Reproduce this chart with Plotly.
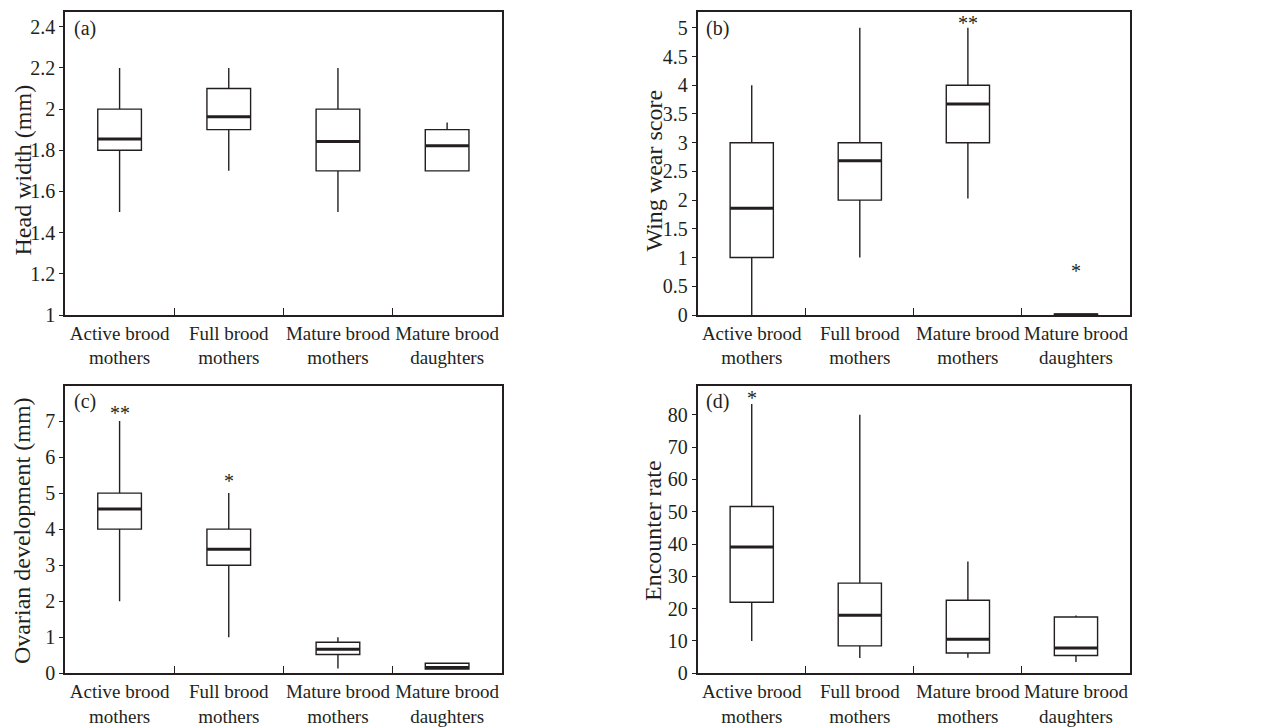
import plotly.graph_objects as go
from plotly.subplots import make_subplots

categories = ["Active brood<br>mothers", "Full brood<br>mothers",
              "Mature brood<br>mothers", "Mature brood<br>daughters"]

# (a) Head width (mm)
head_low = [1.5, 1.7, 1.5, 1.7]
head_q1 = [1.8, 1.9, 1.7, 1.7]
head_med = [1.855, 1.963, 1.842, 1.822]
head_q3 = [2.0, 2.1, 2.0, 1.9]
head_high = [2.2, 2.2, 2.2, 1.935]
head_stars = ["", "", "", ""]
head_star_y = [None, None, None, None]

# (b) Wing wear score
wing_low = [0.0, 1.0, 2.03, 0.0]
wing_q1 = [1.0, 2.0, 3.0, 0.0]
wing_med = [1.86, 2.685, 3.675, 0.0]
wing_q3 = [3.0, 3.0, 4.0, 0.02]
wing_high = [4.0, 5.0, 5.0, 0.02]
wing_stars = ["", "", "**", "*"]
wing_star_y = [None, None, 5.15, 0.84]

# (c) Ovarian development (mm)
ovary_low = [2.0, 1.0, 0.13, 0.12]
ovary_q1 = [4.0, 3.0, 0.52, 0.12]
ovary_med = [4.56, 3.44, 0.67, 0.16]
ovary_q3 = [5.0, 4.0, 0.86, 0.28]
ovary_high = [7.0, 5.0, 1.0, 0.28]
ovary_stars = ["**", "*", "", ""]
ovary_star_y = [7.32, 5.44, None, None]

# (d) Encounter rate
enc_low = [10.0, 4.7, 4.8, 3.5]
enc_q1 = [22.0, 8.5, 6.3, 5.5]
enc_med = [39.1, 18.0, 10.5, 7.8]
enc_q3 = [51.6, 27.9, 22.6, 17.4]
enc_high = [83.3, 80.0, 34.6, 17.9]
enc_stars = ["*", "", "", ""]
enc_star_y = [86.3, None, None, None]

# y tick labels
a_ticks = [1, 1.2, 1.4, 1.6, 1.8, 2, 2.2, 2.4]
a_text = ["1", "1.2", "1.4", "1.6", "1.8", "2", "2.2", "2.4"]
b_ticks = [0, 0.5, 1, 1.5, 2, 2.5, 3, 3.5, 4, 4.5, 5]
b_text = ["0", "0.5", "1", "1.5", "2", "2.5", "3", "3.5", "4", "4.5", "5"]
c_ticks = [0, 1, 2, 3, 4, 5, 6, 7]
c_text = ["0", "1", "2", "3", "4", "5", "6", "7"]
d_ticks = [0, 10, 20, 30, 40, 50, 60, 70, 80]
d_text = ["0", "10", "20", "30", "40", "50", "60", "70", "80"]

W, H = 1267, 728
FONT = "Liberation Serif"
INK = "#231f20"

panels = [
    dict(row=1, col=1, low=head_low, q1=head_q1, med=head_med, q3=head_q3, high=head_high,
         stars=head_stars, star_y=head_star_y, ticks=a_ticks, text=a_text, rng=[1, 2.47],
         label="(a)", title="Head width (mm)", tpos=(22, 170.5)),
    dict(row=1, col=2, low=wing_low, q1=wing_q1, med=wing_med, q3=wing_q3, high=wing_high,
         stars=wing_stars, star_y=wing_star_y, ticks=b_ticks, text=b_text, rng=[0, 5.27],
         label="(b)", title="Wing wear score", tpos=(653, 170.5)),
    dict(row=2, col=1, low=ovary_low, q1=ovary_q1, med=ovary_med, q3=ovary_q3, high=ovary_high,
         stars=ovary_stars, star_y=ovary_star_y, ticks=c_ticks, text=c_text, rng=[0, 7.98],
         label="(c)", title="Ovarian development (mm)", tpos=(22, 531)),
    dict(row=2, col=2, low=enc_low, q1=enc_q1, med=enc_med, q3=enc_q3, high=enc_high,
         stars=enc_stars, star_y=enc_star_y, ticks=d_ticks, text=d_text, rng=[0, 89],
         label="(d)", title="Encounter rate", tpos=(653, 531)),
]

# pixel frames (left, right, top, bottom)
frames = {
    (1, 1): (65, 501.7, 12.3, 315),
    (1, 2): (697.7, 1130, 12.3, 315),
    (2, 1): (65, 501.7, 385.7, 673.3),
    (2, 2): (697.7, 1130, 385.7, 673.3),
}

fig = make_subplots(rows=2, cols=2)

annotations = []
for i, p in enumerate(panels):
    r, c = p["row"], p["col"]
    fig.add_trace(go.Box(
        x=categories, q1=p["q1"], median=p["med"], q3=p["q3"],
        lowerfence=p["low"], upperfence=p["high"], width=0.4, whiskerwidth=0,
        boxpoints=False, fillcolor="white", line=dict(color=INK, width=1.4),
        showlegend=False, hoverinfo="skip"), row=r, col=c)
    fig.add_trace(go.Box(
        x=categories, q1=p["med"], median=p["med"], q3=p["med"],
        lowerfence=p["med"], upperfence=p["med"], width=0.4, whiskerwidth=0,
        boxpoints=False, fillcolor="rgba(0,0,0,0)", line=dict(color=INK, width=3),
        showlegend=False, hoverinfo="skip"), row=r, col=c)
    L, R, T, B = frames[(r, c)]
    xname = "xaxis" if i == 0 else f"xaxis{i+1}"
    yname = "yaxis" if i == 0 else f"yaxis{i+1}"
    xref = "x" if i == 0 else f"x{i+1}"
    yref = "y" if i == 0 else f"y{i+1}"
    fig.layout[xname].update(
        domain=[L / W, R / W], type="category", range=[-0.5, 3.5], automargin=False,
        tickangle=0, tickson="boundaries", ticks="inside", ticklen=7, tickwidth=1.2,
        tickcolor=INK, showline=True, linewidth=1.7, linecolor=INK, mirror=True,
        showgrid=False, zeroline=False, tickfont=dict(family=FONT, size=19, color=INK))
    fig.layout[yname].update(
        domain=[1 - B / H, 1 - T / H], range=p["rng"], tickmode="array", automargin=False,
        tickvals=p["ticks"], ticktext=p["text"], ticks="outside", ticklen=4,
        tickwidth=1.2, tickcolor=INK, showline=True, linewidth=1.7, linecolor=INK,
        mirror=True, showgrid=False, zeroline=False,
        tickfont=dict(family=FONT, size=20, color=INK))
    for k, s in enumerate(p["stars"]):
        if s:
            annotations.append(dict(x=categories[k], y=p["star_y"][k], xref=xref, yref=yref,
                                    text=s, showarrow=False, yanchor="middle", yshift=-4,
                                    font=dict(family=FONT, size=20, color=INK)))
    annotations.append(dict(x=0.015, y=1, xref=f"{xref} domain", yref=f"{yref} domain",
                            xanchor="left", yanchor="middle", yshift=-16, text=p["label"],
                            showarrow=False, font=dict(family=FONT, size=20, color=INK)))
    tx, ty = p["tpos"]
    annotations.append(dict(x=tx / W, y=1 - ty / H, xref="paper", yref="paper",
                            xanchor="center", yanchor="middle", textangle=-90,
                            text=p["title"], showarrow=False,
                            font=dict(family=FONT, size=24, color=INK)))

fig.update_layout(
    width=W, height=H, margin=dict(l=0, r=0, t=0, b=0),
    paper_bgcolor="white", plot_bgcolor="white", boxmode="overlay",
    annotations=annotations, showlegend=False)

fig.write_html("out.html")
